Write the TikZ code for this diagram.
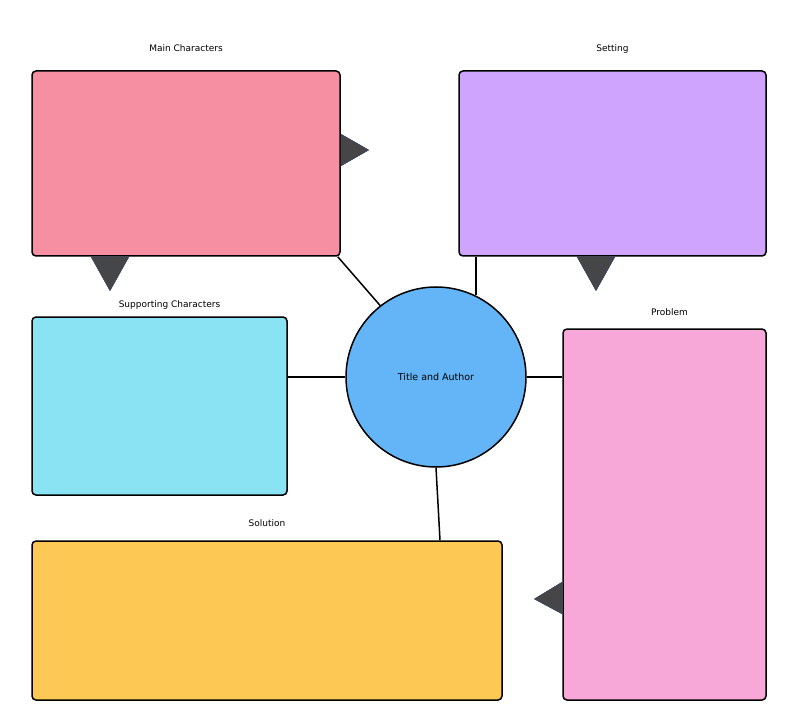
\documentclass[tikz,border=0pt]{standalone}
\usepackage{fontspec}
\setmainfont{DejaVu Sans}
\usepackage{tikz}
\usetikzlibrary{positioning, shapes.geometric}
\definecolor{mainpink}{RGB}{247,143,163}
\definecolor{setpurple}{RGB}{207,164,255}
\definecolor{supcyan}{RGB}{138,227,243}
\definecolor{probpink}{RGB}{247,168,216}
\definecolor{solyellow}{RGB}{253,200,83}
\definecolor{hubblue}{RGB}{99,181,247}
\definecolor{tipgray}{RGB}{70,70,72}
\definecolor{tipedge}{RGB}{40,55,90}
\tikzstyle{box} = [rectangle, rounded corners=4pt, draw=black, line width=1.5pt, inner sep=0pt]
\tikzstyle{hub} = [circle, draw=black, line width=1.5pt, fill=hubblue, minimum size=180pt, inner sep=0pt, font=\fontsize{9.5}{11}\selectfont]
\tikzstyle{lbl} = [inner sep=0pt, text height=7pt, text depth=2pt, font=\fontsize{9}{11}\selectfont]
\tikzstyle{link} = [line width=1.5pt]
\tikzstyle{pointer} = [fill=tipgray, draw=tipedge, line width=0.4pt]

\begin{document}
\begin{tikzpicture}[x=1pt, y=1pt, node distance=18pt]
    \useasboundingbox (0,0) rectangle (800,716);

    \node (main) [box, fill=mainpink, minimum width=308pt, minimum height=185pt] at (186,552.5) {};
    \node (setting) [box, fill=setpurple, minimum width=307pt, minimum height=185pt] at (612.5,552.5) {};
    \node (support) [box, fill=supcyan, minimum width=255pt, minimum height=178pt] at (159.5,310) {};
    \node (problem) [box, fill=probpink, minimum width=203pt, minimum height=371pt] at (664.5,201.5) {};
    \node (solution) [box, fill=solyellow, minimum width=470pt, minimum height=159pt] at (267,95.5) {};
    \node (title) [hub] at (436,339) {Title and Author};

    \node (mainlbl) [lbl, above=16.5pt of main] {Main Characters};
    \node (settinglbl) [lbl, above=16.5pt of setting] {Setting};
    \node (supportlbl) [lbl, above=6.5pt of support, xshift=10pt] {Supporting Characters};
    \node (problemlbl) [lbl, above=10.5pt of problem, xshift=5pt] {Problem};
    \node (solutionlbl) [lbl, above=11.5pt of solution] {Solution};

    \draw [link] ([xshift=-3pt]main.south east) -- (title.128);
    \draw [link] (title.64) -- (title.64 |- setting.south);
    \draw [link] (support.east |- title.west) -- (title.west);
    \draw [link] (title.east) -- (title.east -| problem.west);
    \draw [link] (title.south) -- ([xshift=4pt]title.south |- solution.north);

    \draw [pointer] ([yshift=29.5pt]main.east) -- ([xshift=28pt,yshift=13.5pt]main.east) -- ([yshift=-2.5pt]main.east) -- cycle;
    \draw [pointer] ([xshift=-95pt]main.south) -- ([xshift=-76pt,yshift=-34pt]main.south) -- ([xshift=-57pt]main.south) -- cycle;
    \draw [pointer] ([xshift=-35.5pt]setting.south) -- ([xshift=-16.5pt,yshift=-34pt]setting.south) -- ([xshift=2.5pt]setting.south) -- cycle;
    \draw [pointer] ([yshift=-67.5pt]problem.west) -- ([xshift=-28pt,yshift=-84.5pt]problem.west) -- ([yshift=-99.5pt]problem.west) -- cycle;
\end{tikzpicture}
\end{document}
